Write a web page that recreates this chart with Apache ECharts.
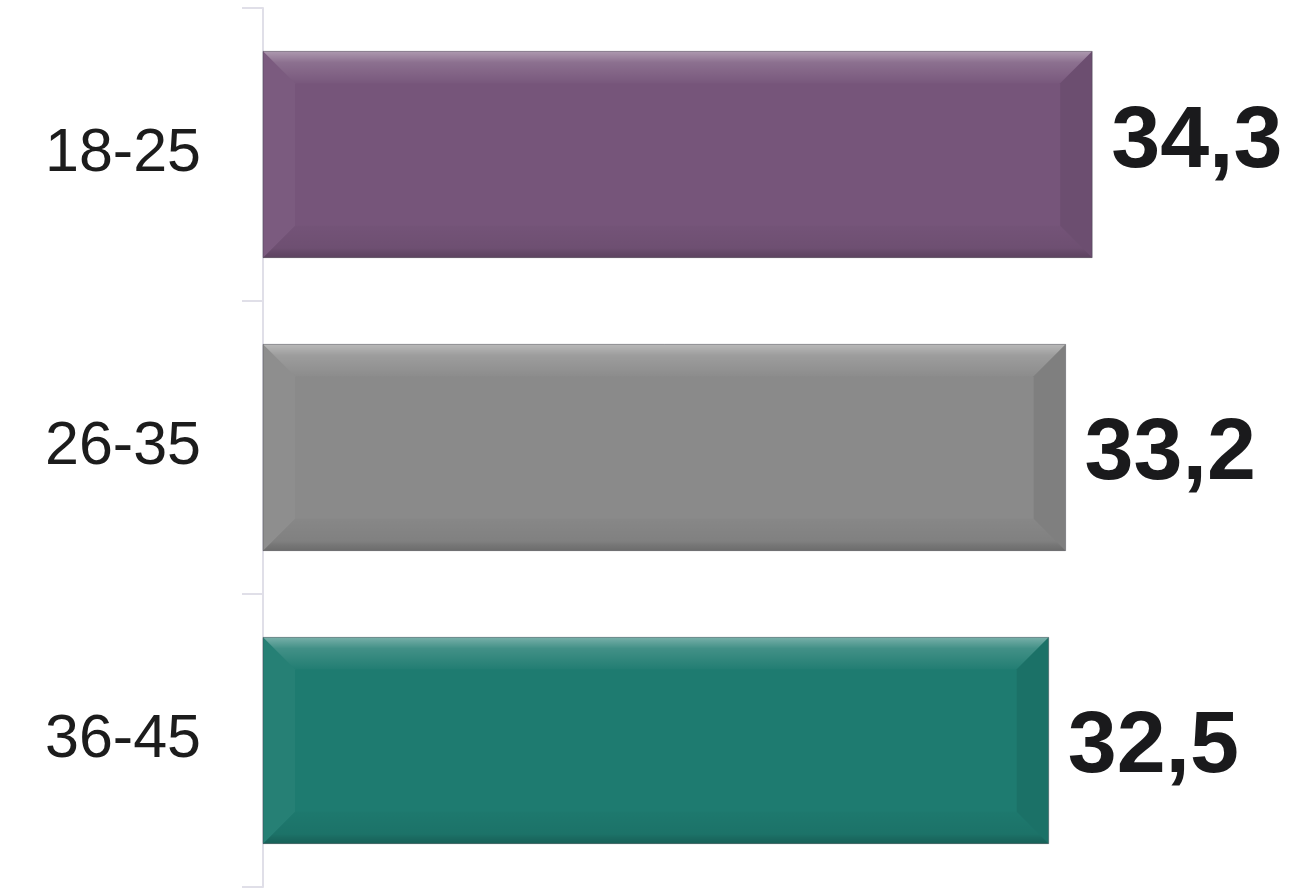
<!DOCTYPE html>
<html>
<head>
<meta charset="utf-8">
<title>Age groups</title>
<script src="https://cdn.jsdelivr.net/npm/echarts@6/dist/echarts.min.js"></script>
<style>
  html, body { margin: 0; padding: 0; background: #ffffff; }
  #chart { width: 1301px; height: 888px; }
</style>
</head>
<body>
<div id="chart"></div>
<script>
// Age groups and their values
const categories = ['18-25', '26-35', '36-45'];
const values = [34.3, 33.2, 32.5];
const valueLabels = ['34,3', '33,2', '32,5'];
const barColors = ['#76557a', '#8a8a8a', '#1e7b70'];

const BAR_RATIO = 0.704;   // bar thickness as a share of the category band
const BEVEL = 32;          // bevel width in px

const chart = echarts.init(document.getElementById('chart'), null, { renderer: 'canvas' });

// Faceted bevel overlay drawn on top of each bar
function renderBevel(params, api) {
  const val = api.value(0);
  const cat = api.value(1);
  const start = api.coord([0, cat]);
  const end = api.coord([val, cat]);
  const h = api.size([0, 1])[1] * BAR_RATIO;
  const x0 = start[0], x1 = end[0];
  const y0 = start[1] - h / 2, y1 = start[1] + h / 2;
  const b = BEVEL;
  const grad = (stops) => new echarts.graphic.LinearGradient(0, 0, 0, 1,
    stops.map(s => ({ offset: s[0], color: s[1] })));
  return {
    type: 'group',
    children: [
      { // top facet
        type: 'polygon',
        shape: { points: [[x0, y0], [x1, y0], [x1 - b, y0 + b], [x0 + b, y0 + b]] },
        style: { fill: grad([[0, 'rgba(255,255,255,0.40)'], [0.35, 'rgba(255,255,255,0.16)'], [1, 'rgba(255,255,255,0.02)']]) },
        silent: true
      },
      { // bottom facet
        type: 'polygon',
        shape: { points: [[x0, y1], [x1, y1], [x1 - b, y1 - b], [x0 + b, y1 - b]] },
        style: { fill: grad([[0, 'rgba(0,0,0,0.02)'], [0.7, 'rgba(0,0,0,0.07)'], [0.82, 'rgba(0,0,0,0.14)'], [1, 'rgba(0,0,0,0.22)']]) },
        silent: true
      },
      { // left facet
        type: 'polygon',
        shape: { points: [[x0, y0], [x0 + b, y0 + b], [x0 + b, y1 - b], [x0, y1]] },
        style: { fill: 'rgba(255,255,255,0.04)' },
        silent: true
      },
      { // right facet
        type: 'polygon',
        shape: { points: [[x1, y0], [x1 - b, y0 + b], [x1 - b, y1 - b], [x1, y1]] },
        style: { fill: 'rgba(0,0,0,0.08)' },
        silent: true
      },
      { // outline
        type: 'rect',
        shape: { x: x0, y: y0, width: x1 - x0, height: y1 - y0 },
        style: { fill: null, stroke: 'rgba(60,60,70,0.4)', lineWidth: 1 },
        silent: true
      }
    ]
  };
}

chart.setOption({
  animation: false,
  grid: { left: 263, right: 71, top: 8, bottom: 1, containLabel: false },
  xAxis: {
    type: 'value',
    min: 0,
    max: 40,
    show: false
  },
  yAxis: {
    type: 'category',
    data: categories,
    inverse: true,
    axisLine: { show: true, lineStyle: { color: '#e0dfe8', width: 2 } },
    axisTick: { show: true, length: 21, lineStyle: { color: '#e0dfe8', width: 2 } },
    axisLabel: {
      margin: 62,
      color: '#1c1c1c',
      fontSize: 61,
      fontFamily: '"Liberation Sans", Arial, sans-serif',
      fontWeight: 'normal'
    },
    splitLine: { show: false }
  },
  series: [
    {
      type: 'bar',
      barWidth: (BAR_RATIO * 100) + '%',
      data: values.map((v, i) => ({
        value: v,
        itemStyle: { color: barColors[i] },
        label: { offset: i === 0 ? [0, -12] : [0, 7] }
      })),
      label: {
        show: true,
        position: 'right',
        distance: 19,
        formatter: (p) => valueLabels[p.dataIndex],
        color: '#1a1a1c',
        fontSize: 88,
        fontWeight: 'bold',
        fontFamily: '"Liberation Sans", Arial, sans-serif'
      },
      z: 2
    },
    {
      type: 'custom',
      renderItem: renderBevel,
      encode: { x: 0, y: 1 },
      data: values.map((v, i) => [v, i]),
      z: 3,
      silent: true
    }
  ]
});
</script>
</body>
</html>
